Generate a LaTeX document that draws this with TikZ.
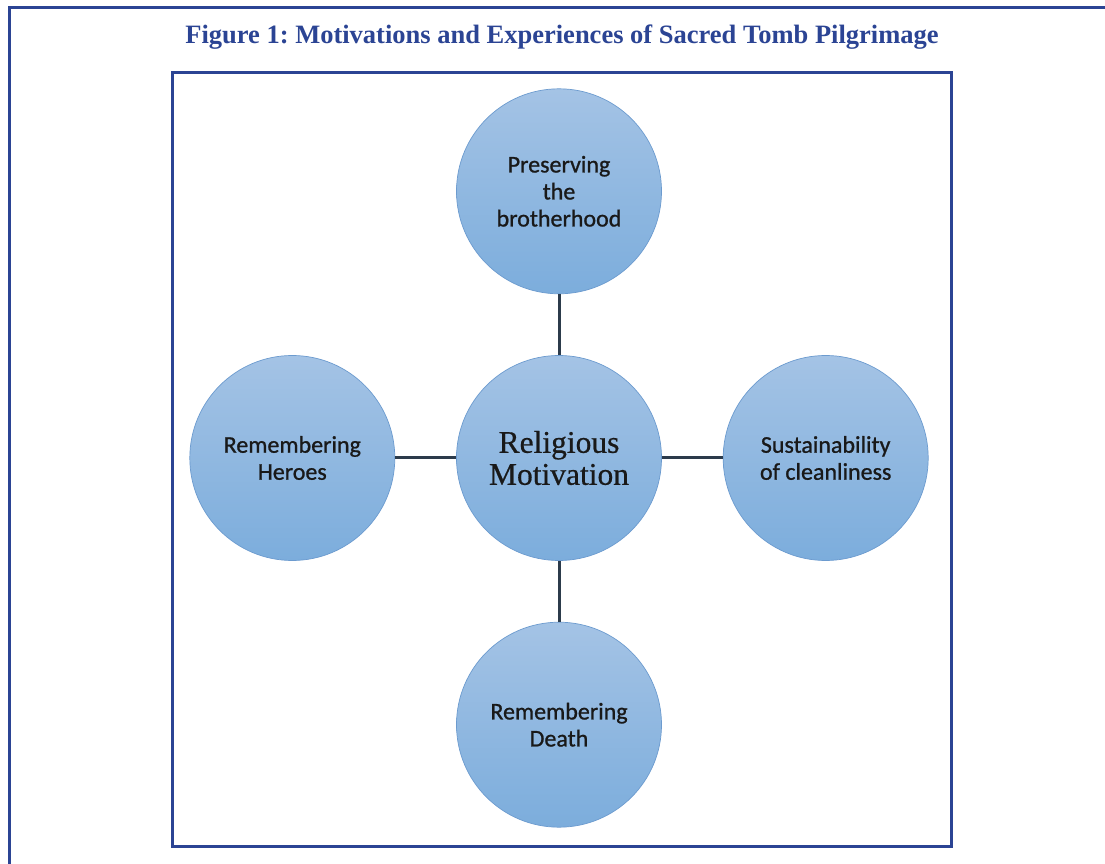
\documentclass[tikz,border=0pt]{standalone}
\usepackage{fontspec}
\setmainfont{Liberation Serif}
\setsansfont{Carlito}
\newfontfamily\bubblefont{Carlito}[FakeBold=0.9]
\newfontfamily\hubfont{Liberation Serif}[FakeBold=0.6]
\usepackage{tikz}
\usetikzlibrary{positioning}
\definecolor{navy}{HTML}{2B4494}
\definecolor{slate}{HTML}{2C3B4B}
\definecolor{bubbletop}{HTML}{A4C3E5}
\definecolor{bubblebot}{HTML}{7CADDC}
\definecolor{bubbleline}{HTML}{6C9BCF}

\begin{document}
\begin{tikzpicture}[x=1pt,y=1pt,
  every node/.style={font=\sffamily},
  bubble/.style={circle,minimum size=205pt,inner sep=0pt,align=center,
    top color=bubbletop,bottom color=bubblebot,draw=bubbleline,line width=0.7pt,
    font=\bubblefont\fontsize{24}{27}\selectfont,text=black!90},
  link/.style={slate,line width=3pt},
  frame/.style={navy,line width=3pt}]
  \useasboundingbox (0,0) rectangle (1105,863);
  \clip (0,0) rectangle (1105,863);
  \fill[white] (0,0) rectangle (1105,863);
  % page frame and figure box
  \draw[frame] (9,-10) -- (9,855) -- (1115,855);
  \draw[frame] (172,17) rectangle (951,790);
  \node[font=\rmfamily\bfseries\fontsize{26.5}{30}\selectfont\frenchspacing,text=navy] (title) at (562,826) {Figure 1: Motivations and Experiences of Sacred Tomb Pilgrimage};
  % hub and the four motives
  \node[bubble,font=\hubfont\fontsize{31.5}{32}\selectfont] (hub) at (559,405) {Religious\\Motivation};
  \node[bubble,above=61pt of hub] (brother) {Preserving\\the\\brotherhood};
  \node[bubble,left=61pt of hub] (heroes) {Remembering\\Heroes};
  \node[bubble,right=61pt of hub] (clean) {Sustainability\\of cleanliness};
  \node[bubble,below=61pt of hub] (death) {Remembering\\Death};
  \draw[link] (brother) -- (hub);
  \draw[link] (heroes) -- (hub);
  \draw[link] (clean) -- (hub);
  \draw[link] (death) -- (hub);
\end{tikzpicture}
\end{document}
